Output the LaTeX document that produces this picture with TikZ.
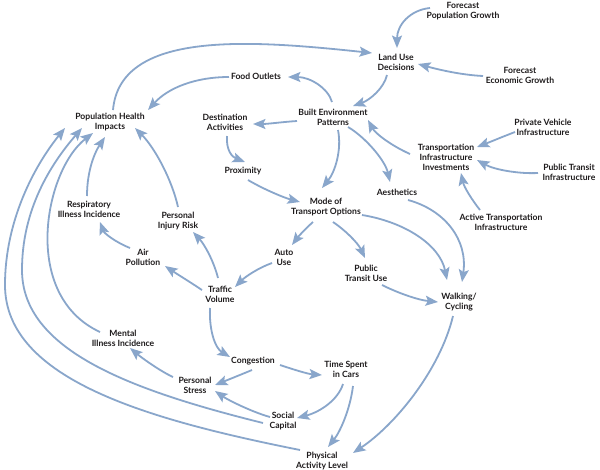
\documentclass[tikz,border=0pt]{standalone}
\usepackage{fontspec}
\setmainfont{Lato}
\usetikzlibrary{arrows.meta}
\definecolor{arrowc}{RGB}{137,166,203}
\definecolor{txtc}{RGB}{30,27,28}
\begin{document}
\begin{tikzpicture}[x=1pt,y=-1pt,
  lbl/.style={font=\fontsize{8.6}{10}\selectfont\bfseries, text=txtc, align=center, inner sep=0pt},
  arr/.style={draw=arrowc, line width=1.8pt, -{Stealth[length=12.5pt,width=10pt,inset=2.5pt]}}]
\useasboundingbox[fill=white] (0,0) rectangle (600,469);
% nodes
\node[lbl] (fpg) at (463,11) {Forecast\\Population Growth};
\node[lbl] (lud) at (396,62) {Land Use\\Decisions};
\node[lbl] (feg) at (520,75) {Forecast\\Economic Growth};
\node[lbl] (fo) at (256,76) {Food Outlets};
\node[lbl] (bep) at (333,117) {Built Environment\\Patterns};
\node[lbl] (phi) at (110,122) {Population Health\\Impacts};
\node[lbl] (da) at (225,122) {Destination\\Activities};
\node[lbl] (pvi) at (543,127) {Private Vehicle\\Infrastructure};
\node[lbl] (tii) at (446,157) {Transportation\\Infrastructure\\Investments};
\node[lbl] (pti) at (569,172) {Public Transit\\Infrastructure};
\node[lbl] (prox) at (243,171) {Proximity};
\node[lbl] (aes) at (397,192) {Aesthetics};
\node[lbl] (mode) at (326,207) {Mode of\\Transport Options};
\node[lbl] (ati) at (501,222) {Active Transportation\\Infrastructure};
\node[lbl] (rii) at (89,209) {Respiratory\\Illness Incidence};
\node[lbl] (pir) at (178,221) {Personal\\Injury Risk};
\node[lbl] (auto) at (284,257) {Auto\\Use};
\node[lbl] (ptu) at (366,273) {Public\\Transit Use};
\node[lbl] (air) at (143,257) {Air\\Pollution};
\node[lbl] (tv) at (220,294) {Traffic\\Volume};
\node[lbl] (wc) at (459,302) {Walking/\\Cycling};
\node[lbl] (mii) at (123,338) {Mental\\Illness Incidence};
\node[lbl] (cong) at (253,361) {Congestion};
\node[lbl] (ps) at (195,385) {Personal\\Stress};
\node[lbl] (tsc) at (346,369) {Time Spent\\in Cars};
\node[lbl] (sc) at (283,421) {Social\\Capital};
\node[lbl] (pal) at (322,461) {Physical\\Activity Level};
\coordinate (bendA) at (5,285);
\coordinate (bendB) at (22,270);
% connectors
\draw[arr] ([shift={(-33,-3)}]fpg.center) .. controls (410,10) and (397,25) .. ([shift={(1,-14)}]lud.center);
\draw[arr] ([shift={(-37,1)}]feg.center) .. controls (462,75) and (440,70) .. ([shift={(22,2)}]lud.center);
\draw[arr] ([shift={(-9,13)}]lud.center) .. controls (384,88) and (370,100) .. ([shift={(20,-11)}]bep.center);
\draw[arr] ([shift={(3,-12)}]phi.center) .. controls (120,30) and (250,40) .. ([shift={(-24,-9)}]lud.center);
\draw[arr] ([shift={(-1,-15)}]bep.center) .. controls (328,88) and (310,77) .. ([shift={(32,1)}]fo.center);
\draw[arr] ([shift={(-27,1)}]fo.center) .. controls (195,77) and (168,88) .. ([shift={(38,-12)}]phi.center);
\draw[arr] ([shift={(-36,4)}]bep.center) .. controls (282,122) and (268,124) .. ([shift={(28,2)}]da.center);
\draw[arr] ([shift={(2,14)}]da.center) .. controls (226,150) and (232,157) .. ([shift={(2,-9)}]prox.center);
\draw[arr] ([shift={(5,9)}]prox.center) .. controls (265,190) and (285,198) .. ([shift={(-26,-5)}]mode.center);
\draw[arr] ([shift={(5,13)}]bep.center) .. controls (342,150) and (335,172) .. ([shift={(-4,-19)}]mode.center);
\draw[arr] ([shift={(15,10)}]bep.center) .. controls (365,137) and (385,160) .. ([shift={(-7,-10)}]aes.center);
\draw[arr] ([shift={(-36,-3)}]tii.center) .. controls (390,145) and (375,133) .. ([shift={(35,3)}]bep.center);
\draw[arr] ([shift={(-28,5)}]pvi.center) .. controls (502,137) and (490,142) .. ([shift={(31,-10)}]tii.center);
\draw[arr] ([shift={(-31,1)}]pti.center) .. controls (520,174) and (495,170) .. ([shift={(31,3)}]tii.center);
\draw[arr] ([shift={(-21,-12)}]ati.center) .. controls (472,200) and (464,187) .. ([shift={(15,16)}]tii.center);
\draw[arr] ([shift={(11,8)}]aes.center) .. controls (445,210) and (468,240) .. ([shift={(3,-20)}]wc.center);
\draw[arr] ([shift={(36,8)}]mode.center) .. controls (405,222) and (440,245) .. ([shift={(-12,-22)}]wc.center);
\draw[arr] ([shift={(-13,15)}]mode.center) .. controls (305,229) and (298,237) .. ([shift={(8,-12)}]auto.center);
\draw[arr] ([shift={(7,15)}]mode.center) .. controls (345,230) and (358,243) .. ([shift={(-1,-15)}]ptu.center);
\draw[arr] ([shift={(16,12)}]ptu.center) .. controls (398,293) and (418,300) .. ([shift={(-21,0)}]wc.center);
\draw[arr] ([shift={(-12,6)}]auto.center) .. controls (258,268) and (245,277) .. ([shift={(15,-7)}]tv.center);
\draw[arr] ([shift={(-18,-4)}]tv.center) .. controls (190,282) and (177,274) .. ([shift={(22,9)}]air.center);
\draw[arr] ([shift={(-2,-16)}]tv.center) .. controls (214,262) and (205,245) .. ([shift={(15,11)}]pir.center);
\draw[arr] ([shift={(-13,-9)}]air.center) .. controls (115,242) and (104,233) .. ([shift={(11,13)}]rii.center);
\draw[arr] ([shift={(-2,-13)}]rii.center) .. controls (87,170) and (95,152) .. ([shift={(-5,15)}]phi.center);
\draw[arr] ([shift={(0,-14)}]pir.center) .. controls (172,180) and (155,148) .. ([shift={(25,6)}]phi.center);
\draw[arr] ([shift={(-10,14)}]tv.center) .. controls (209,330) and (215,348) .. ([shift={(-23,-4)}]cong.center);
\draw[arr] ([shift={(-1,9)}]cong.center) .. controls (240,375) and (225,381) .. ([shift={(20,0)}]ps.center);
\draw[arr] ([shift={(27,4)}]cong.center) .. controls (295,370) and (308,374) .. ([shift={(-24,6)}]tsc.center);
\draw[arr] ([shift={(-3,15)}]tsc.center) .. controls (338,400) and (320,412) .. ([shift={(14,-3)}]sc.center);
\draw[arr] ([shift={(7,17)}]tsc.center) .. controls (350,410) and (340,432) .. ([shift={(6,-14)}]pal.center);
\draw[arr] ([shift={(-6,14)}]wc.center) .. controls (440,370) and (395,425) .. ([shift={(31,-8)}]pal.center);
\draw[arr] ([shift={(-13,-4)}]sc.center) .. controls (252,412) and (228,400) .. ([shift={(20,6)}]ps.center);
\draw[arr] ([shift={(-22,-8)}]ps.center) .. controls (160,371) and (142,358) .. ([shift={(7,10)}]mii.center);
\draw[arr] ([shift={(-23,-6)}]mii.center) .. controls (20,295) and (45,170) .. ([shift={(-17,11)}]phi.center);
\draw[arr] ([shift={(-20,2)}]sc.center) .. controls (130,390) and (22,350) .. (bendB) .. controls (22,210) and (50,165) .. ([shift={(-28,6)}]phi.center);
\draw[arr] ([shift={(-22,-11)}]pal.center) .. controls (150,420) and (5,380) .. (bendA) .. controls (5,220) and (35,165) .. ([shift={(-45,6)}]phi.center);
\end{tikzpicture}
\end{document}
